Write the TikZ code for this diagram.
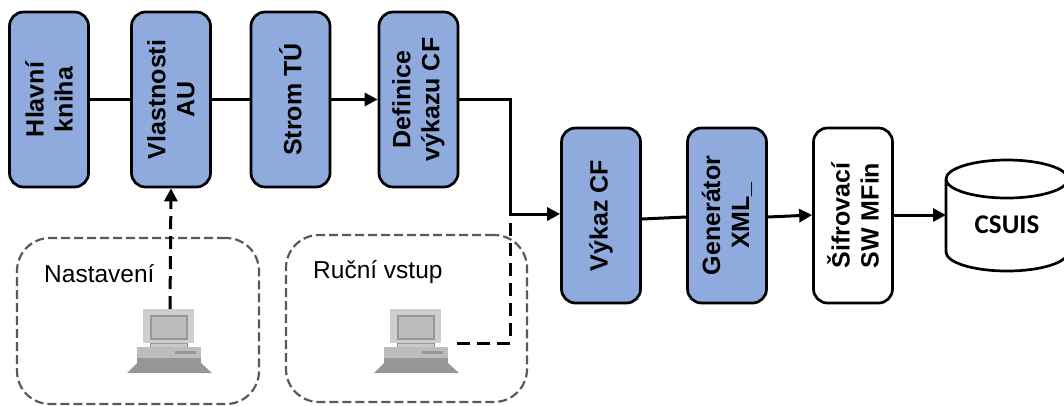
\documentclass[tikz,border=0pt]{standalone}
\usepackage{fontspec}
\setmainfont{Liberation Sans}
\newfontfamily\csuisfont{Carlito}
\usetikzlibrary{arrows.meta}
\tikzset{
  flowbox/.style={draw=black,line width=2.7pt,rounded corners=14pt,fill=boxblue,minimum width=175pt,minimum height=79pt,align=center,font=\fontsize{25}{29}\selectfont\bfseries,text=black,rotate=90,inner sep=0pt},
  whitebox/.style={flowbox,fill=white},
  groupbox/.style={draw=dashgray,line width=2.2pt,dash pattern=on 9pt off 4pt,rounded corners=33pt},
  flowline/.style={draw=black,line width=3pt},
  flowarrow/.style={flowline,-{Triangle[length=13pt,width=13pt]}},
  dashline/.style={flowline,dash pattern=on 13pt off 7pt},
  pclabel/.style={font=\fontsize{24.5}{29}\selectfont,anchor=west,inner sep=0pt},
  pc/.pic={
    \fill[pcgray!75] (-27,-1) rectangle (24,33);
    \draw[pcdark,line width=1.6pt,fill=pcgray] (-19,6) rectangle (17,29);
    \draw[pcdark,fill=pcgray!80] (-20,33) rectangle (17,37);
    \fill[pcgray] (-33,37) -- (31,37) -- (31,53) -- (-33,53) -- cycle;
    \fill[pcdark] (-33,48) rectangle (31,53);
    \fill[pcdark] (5,41) rectangle (26,44);
    \fill[pcdark] (-33,53) -- (31,53) -- (42,63) -- (-43,63) -- cycle;
  }
}
\definecolor{boxblue}{HTML}{8FAADC}
\definecolor{dashgray}{HTML}{595959}
\definecolor{pcgray}{HTML}{BDBDBD}
\definecolor{pcdark}{HTML}{979797}
\begin{document}
\begin{tikzpicture}[x=1pt,y=-1pt]
  \useasboundingbox (0,0) rectangle (1064,405);
  \node[flowbox] (kniha) at (49,99.5) {Hlavní\\kniha};
  \node[flowbox] (vlastnosti) at (171,99.5) {Vlastnosti\\AU};
  \node[flowbox] (strom) at (290.5,99.5) {Strom TÚ};
  \node[flowbox] (definice) at (418.5,99.5) {Definice\\výkazu CF};
  \node[flowbox] (vykaz) at (601,215.5) {Výkaz CF};
  \node[flowbox] (generator) at (727,215.5) {Generátor\\XML\_};
  \node[whitebox] (sifrovaci) at (853,215.5) {Šifrovací\\SW MFin};
  \coordinate (csuisleft) at (946,215);
  \draw[draw=black,line width=2.7pt,fill=white] (946,179) -- (946,252) arc[start angle=180,end angle=0,x radius=61,y radius=19] -- (1068,179) arc[start angle=0,end angle=-180,x radius=61,y radius=19] arc[start angle=180,end angle=0,x radius=61,y radius=19];
  \node[font=\csuisfont\fontsize{27}{29}\selectfont\bfseries] (csuistext) at (1007,225) {CSUIS};
  \node[groupbox,minimum width=242pt,minimum height=166pt] (nastbox) at (138,321) {};
  \node[groupbox,minimum width=241pt,minimum height=167pt] (rucbox) at (406.5,318.5) {};
  \node[pclabel] (nastlabel) at (44,274) {Nastavení};
  \node[pclabel] (ruclabel) at (313,272) {Ruční vstup};
  \pic at (170,310) {pc};
  \pic at (417,310) {pc};
  \coordinate (nastpc) at (170,309);
  \coordinate (rucpc) at (457,343);
  \coordinate (joint) at (510,214);
  \draw[flowline] (kniha) -- (vlastnosti);
  \draw[flowline] (vlastnosti) -- (strom);
  \draw[flowarrow] (strom) -- (definice);
  \draw[flowline] (definice.south |- 0,99.5) -- (510,99.5) -- (joint);
  \draw[flowarrow] (joint) -- (vykaz.north |- joint);
  \draw[flowline] (vykaz.south |- 0,219) -- (generator.north |- 0,217);
  \draw[flowarrow] (generator.south |- 0,217) -- (sifrovaci.north |- 0,215);
  \draw[flowarrow] (sifrovaci.south |- 0,215) -- (csuisleft);
  \draw[dashline,-{Triangle[length=13pt,width=13pt]}] (nastpc) -- (vlastnosti.west);
  \draw[dashline] (rucpc) -- (510,343) -- (joint);
\end{tikzpicture}
\end{document}
